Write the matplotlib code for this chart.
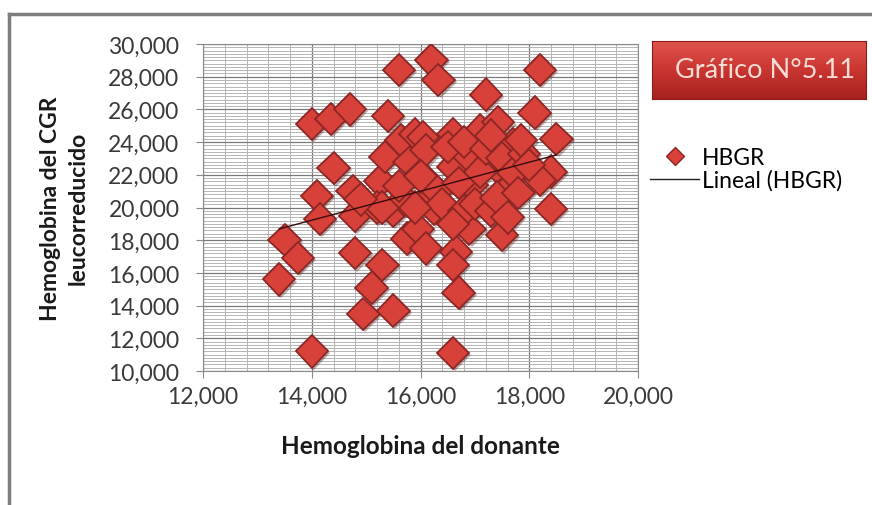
import numpy as np
import matplotlib
matplotlib.use("Agg")
import matplotlib.pyplot as plt
import matplotlib.patheffects as pe
from matplotlib.ticker import MultipleLocator, FuncFormatter
from matplotlib.lines import Line2D

plt.rcParams["font.family"] = ["Lato", "DejaVu Sans"]

# Donor hemoglobin (x) vs leukoreduced RBC hemoglobin (y)
hb_donante = [
    13400, 13500, 13750, 14000, 14000, 14100, 14150, 14350, 14400, 14700,
    14750, 14800, 14800, 14950, 15100, 15250, 15300, 15350, 15400, 15500,
    15600, 15650, 15750, 15900, 15950, 16050, 16200, 16330, 16250, 16250,
    16600, 16600, 16600, 16650, 16700, 16900, 16900, 16950, 17100, 17200,
    17400, 17430, 17500, 17580, 17700, 18100, 18200, 18400, 18400, 18500,
    18200, 15200, 15500, 15700, 15800, 16000, 16100, 16300, 16400, 16500,
    16700, 16800, 16800, 17000, 17100, 17200, 17300, 17300, 17400, 17500,
    17600, 17700, 17800, 17900, 17850, 18000, 16600, 16600, 16100, 15900,
    15600, 16000, 15300, 14900,
]
hb_cgr = [
    15600, 18000, 16900, 11200, 25100, 20700, 19300, 25400, 22400, 26000,
    21000, 19500, 17200, 13500, 15100, 21600, 16500, 23100, 25600, 13700,
    28400, 24100, 18100, 24500, 18700, 24300, 29000, 27800, 19900, 20800,
    24500, 22500, 11100, 17300, 14800, 23100, 18700, 21400, 24700, 26900,
    22500, 25200, 18300, 21000, 23900, 25800, 28400, 22200, 19900, 24200,
    21700, 20000, 19800, 20500, 22800, 22000, 23500, 21000, 20200, 23700,
    21500, 24000, 19800, 20200, 22200, 23600, 19800, 24400, 20600, 23000,
    19400, 22100, 20900, 23300, 24100, 22600, 19000, 16500, 17500, 20000,
    21300, 21900, 20000, 20500,
]

x = np.array(hb_donante, dtype=float)
y = np.array(hb_cgr, dtype=float)

fig = plt.figure(figsize=(8.72, 5.06), dpi=100)
ax = fig.add_axes([203 / 872, 1 - 372 / 506, 435 / 872, 327 / 506])

red_face = "#D8403A"
red_edge = "#8A2724"
shadow = [pe.SimplePatchShadow(offset=(1.5, -1.5), alpha=0.35), pe.Normal()]

ax.plot(x, y, linestyle="none", marker="D", markersize=16.5,
        markerfacecolor=red_face, markeredgecolor=red_edge,
        markeredgewidth=1.3, label="HBGR", zorder=3, path_effects=shadow)

# linear trend over the data range
slope, intercept = np.polyfit(x, y, 1)
xs = np.array([x.min(), x.max()])
ax.plot(xs, slope * xs + intercept, color="#3a0b0b", linewidth=1,
        label="Lineal (HBGR)", zorder=4)

ax.set_xlim(12000, 20000)
ax.set_ylim(10000, 30000)
ax.xaxis.set_major_locator(MultipleLocator(2000))
ax.xaxis.set_minor_locator(MultipleLocator(400))
ax.yaxis.set_major_locator(MultipleLocator(2000))
ax.yaxis.set_minor_locator(MultipleLocator(200))
fmt = FuncFormatter(lambda v, _: f"{v:,.0f}")
ax.xaxis.set_major_formatter(fmt)
ax.yaxis.set_major_formatter(fmt)

ax.grid(which="major", color="#7a7a7a", linewidth=0.9)
ax.grid(which="minor", color="#b4b4b4", linewidth=0.7)
ax.set_axisbelow(True)
for s in ax.spines.values():
    s.set_color("#8a8a8a")
ax.tick_params(which="major", direction="out", length=5, color="#8a8a8a",
               labelsize=16.5, labelcolor="#3a3a3a")
ax.tick_params(axis="y", which="major", pad=12)
ax.tick_params(axis="x", which="major", pad=6)
ax.tick_params(which="minor", length=0)

ax.set_xlabel("Hemoglobina del donante", fontsize=17.5, fontweight="bold",
              color="#1a1a1a", va="center")
ax.xaxis.set_label_coords(0.501, -0.229)
ax.set_ylabel("Hemoglobina del CGR\nleucorreducido", fontsize=16.5,
              fontweight="bold", color="#1a1a1a", linespacing=1.4,
              va="center")
ax.yaxis.set_label_coords(-0.3195, 0.5)

# title box with vertical red gradient
tax = fig.add_axes([652 / 872, 1 - 100 / 506, 214 / 872, 58 / 506])
grad = np.linspace(0, 1, 64)[:, None]
cmap = matplotlib.colors.LinearSegmentedColormap.from_list(
    "box", ["#E0544C", "#C93530", "#A8221F"])
tax.imshow(grad, aspect="auto", cmap=cmap, extent=(0, 1, 0, 1))
tax.set_xticks([])
tax.set_yticks([])
for s in tax.spines.values():
    s.set_color("#8a1c1a")
tax.text(0.53, 0.5, "Gráfico N°5.11", ha="center", va="center",
         fontsize=19.5, color="#F8DCD6", transform=tax.transAxes)

legend_marker = Line2D([], [], linestyle="none", marker="D", markersize=9,
                       markerfacecolor=red_face, markeredgecolor=red_edge,
                       markeredgewidth=1)
legend_line = Line2D([], [], color="#222222", linewidth=1)
fig.legend([legend_marker, legend_line], ["HBGR", "Lineal (HBGR)"],
           loc="upper left", bbox_to_anchor=(650 / 872, 1 - 148 / 506),
           frameon=False, fontsize=16.5, handlelength=2.15, handletextpad=0.1,
           labelspacing=0.05, borderpad=0, borderaxespad=0)

# outer frame (top and left edges)
fig.add_artist(Line2D([9 / 872, 9 / 872], [0, 1 - 15 / 506],
                      color="#7d7d7d", linewidth=2.5))
fig.add_artist(Line2D([9 / 872, 1], [1 - 15 / 506, 1 - 15 / 506],
                      color="#7d7d7d", linewidth=2.5))

fig.savefig("out.png", dpi=100)
